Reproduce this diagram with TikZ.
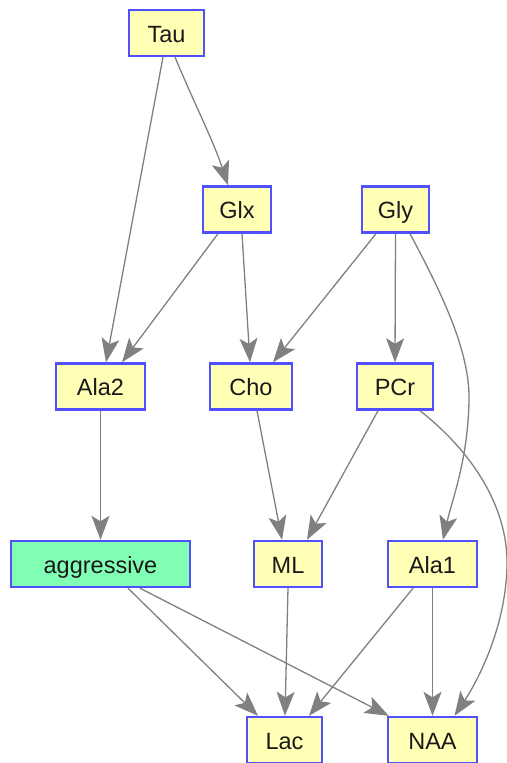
\documentclass[tikz,border=0pt]{standalone}
\usepackage{fontspec}
\setmainfont{Liberation Sans}
\usetikzlibrary{arrows.meta}
\definecolor{boxfill}{RGB}{255,255,182}
\definecolor{aggfill}{RGB}{128,255,180}
\definecolor{boxline}{RGB}{80,80,255}
\definecolor{edgegray}{RGB}{128,128,128}
\definecolor{labeltext}{RGB}{25,25,25}
\tikzset{
  box/.style={draw=boxline, line width=2.4pt, fill=boxfill, rectangle,
    minimum height=46pt, inner sep=0pt, text=labeltext,
    text height=18.5pt, text depth=0pt,
    font=\fontsize{23.5}{27}\selectfont},
  aggbox/.style={box, fill=aggfill},
  link/.style={draw=edgegray, line width=1.3pt,
    -{Stealth[length=24pt, width=18pt, inset=5.5pt, fill=edgegray]}}
}
\begin{document}
\begin{tikzpicture}[x=1pt, y=-1pt]
\useasboundingbox (0,0) rectangle (506,763);

% nodes
\node[box, minimum width=75pt] (Tau) at (166.5,33) {Tau};
\node[box, minimum width=68pt] (Glx) at (237,209.5) {Glx};
\node[box, minimum width=67pt] (Gly) at (395.5,209.5) {Gly};
\node[box, minimum width=89pt] (Ala2) at (100.5,386.5) {Ala2};
\node[box, minimum width=82pt] (Cho) at (251,386.5) {Cho};
\node[box, minimum width=76pt] (PCr) at (395,386.5) {PCr};
\node[aggbox, minimum width=179pt] (agg) at (100.5,564) {aggressive};
\node[box, minimum width=68pt] (ML) at (288,564) {ML};
\node[box, minimum width=89pt] (Ala1) at (432.5,564) {Ala1};
\node[box, minimum width=75pt] (Lac) at (284.5,740) {Lac};
\node[box, minimum width=89pt] (NAA) at (432.5,740) {NAA};

% connectors
\draw[link] ([xshift=-3.5pt]Tau.south) -- ([xshift=5.5pt]Ala2.north);
\draw[link] ([xshift=8.5pt]Tau.south) .. controls (195,105) and (213,140) .. ([xshift=-9pt]Glx.north);
\draw[link] ([xshift=-19pt]Glx.south) -- ([xshift=21.5pt]Ala2.north);
\draw[link] ([xshift=5pt]Glx.south) -- ([xshift=-1pt]Cho.north);
\draw[link] ([xshift=-19.5pt]Gly.south) -- ([xshift=22pt]Cho.north);
\draw[link] (Gly.south) -- (PCr.north);
\draw[link] ([xshift=14.5pt]Gly.south) .. controls (440,290) and (470,350) .. (469,400)
  .. controls (468,460) and (452,500) .. ([xshift=10.5pt]Ala1.north);
\draw[link] ([xshift=-17pt]PCr.south) -- ([xshift=19pt]ML.north);
\draw[link] ([xshift=25pt]PCr.south) .. controls (470,450) and (508,505) .. (507,565)
  .. controls (506,630) and (475,685) .. ([xshift=22pt]NAA.north);
\draw[link] ([xshift=6pt]Cho.south) -- ([xshift=-6pt]ML.north);
\draw[link] (Ala2.south) -- (agg.north);
\draw[link] ([xshift=27.5pt]agg.south) -- ([xshift=-26.5pt]Lac.north);
\draw[link] ([xshift=39.5pt]agg.south) -- ([xshift=2pt]NAA.north west);
\draw[link] (ML.south) -- ([xshift=0.5pt]Lac.north);
\draw[link] ([xshift=-19.5pt]Ala1.south) -- ([xshift=24.5pt]Lac.north);
\draw[link] (Ala1.south) -- (NAA.north);
\end{tikzpicture}
\end{document}
